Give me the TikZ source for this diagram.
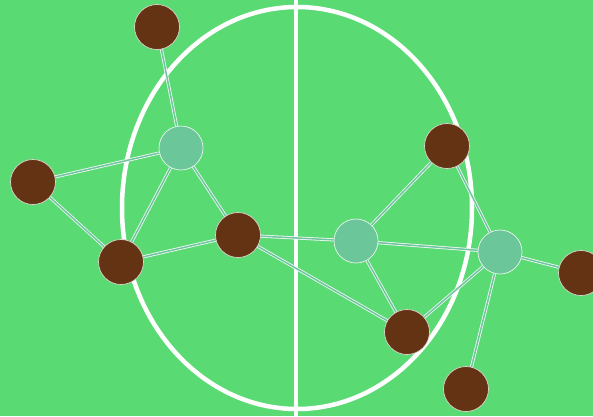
\documentclass[tikz,border=0pt]{standalone}
\definecolor{bg}{HTML}{5ADA72}
\definecolor{brownn}{HTML}{633314}
\definecolor{tealn}{HTML}{6BC69A}
\definecolor{edgein}{HTML}{70C4A0}
\begin{document}
\begin{tikzpicture}[x=1pt,y=-1pt,
  bn/.style={circle,fill=brownn,draw=white!80!brownn,line width=0.7pt,minimum size=45pt,inner sep=0pt},
  tn/.style={circle,fill=tealn,draw=white!85!tealn,line width=0.7pt,minimum size=44pt,inner sep=0pt},
  edge/.style={draw=white!90!edgein,line width=0.8pt,double=edgein,double distance=1.5pt},
  field/.style={draw=white,line width=4.5pt}]
\fill[bg] (0,0) rectangle (593,416);
\useasboundingbox (0,0) rectangle (593,416);
\draw[field] (297,208) ellipse [x radius=175,y radius=201];
\draw[field] (296,0) -- (296,416);
\node[bn] (b1) at (157,27) {};
\node[bn] (b2) at (33,182) {};
\node[bn] (b3) at (121,262) {};
\node[bn] (b4) at (238,235) {};
\node[bn] (b5) at (447,146) {};
\node[bn] (b6) at (407,332) {};
\node[bn] (b7) at (581,273) {};
\node[bn] (b8) at (466,389) {};
\node[tn] (t1) at (181,148) {};
\node[tn] (t2) at (356,241) {};
\node[tn] (t3) at (500,252) {};
\path[edge] (b1) -- (t1);
\path[edge] (b2) -- (t1);
\path[edge] (b2) -- (b3);
\path[edge] (b3) -- (t1);
\path[edge] (t1) -- (b4);
\path[edge] (b3) -- (b4);
\path[edge] (b4) -- (t2);
\path[edge] (b4) -- (b6);
\path[edge] (t2) -- (b5);
\path[edge] (t2) -- (b6);
\path[edge] (t2) -- (t3);
\path[edge] (b5) -- (t3);
\path[edge] (t3) -- (b6);
\path[edge] (t3) -- (b7);
\path[edge] (t3) -- (b8);
\end{tikzpicture}
\end{document}
